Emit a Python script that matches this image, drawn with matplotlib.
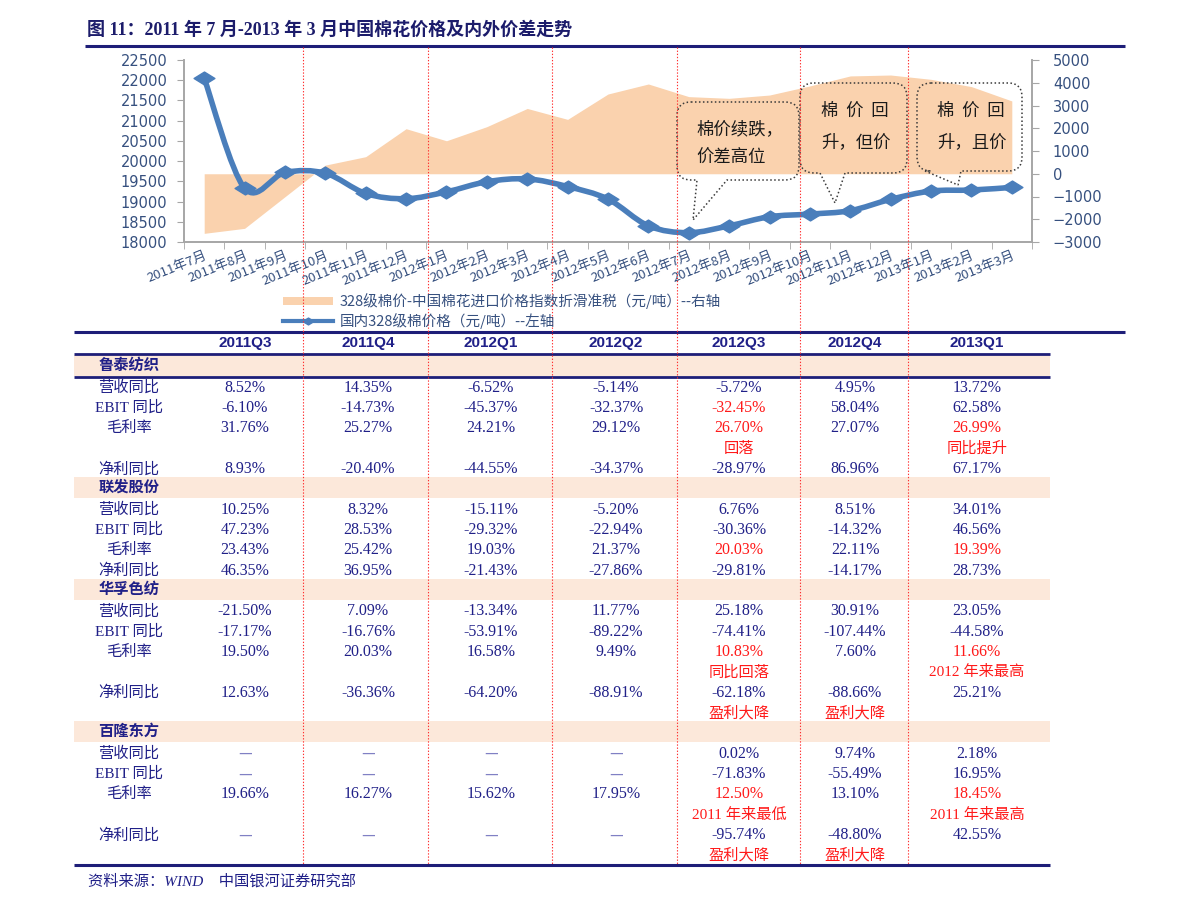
import numpy as np
import matplotlib.pyplot as plt
from matplotlib.path import Path
from matplotlib.patches import PathPatch, Rectangle
from matplotlib.lines import Line2D

plt.rcParams['font.family'] = ['Liberation Sans', 'Noto Sans CJK SC', 'DejaVu Sans']

# ---- chart data ----
months = ['2011年7月', '2011年8月', '2011年9月', '2011年10月', '2011年11月', '2011年12月',
          '2012年1月', '2012年2月', '2012年3月', '2012年4月', '2012年5月', '2012年6月',
          '2012年7月', '2012年8月', '2012年9月', '2012年10月', '2012年11月', '2012年12月',
          '2013年1月', '2013年2月', '2013年3月']
domestic_price = [22050, 19330, 19720, 19700, 19200, 19070, 19240, 19490, 19560, 19370, 19060,
                  18400, 18230, 18400, 18625, 18690, 18775, 19055, 19260, 19285, 19350]
price_gap = [-2620, -2400, -1010, 380, 750, 1980, 1450, 2070, 2870, 2390, 3505,
             3945, 3390, 3315, 3460, 3860, 4300, 4340, 4150, 3830, 3200]
legend_gap = '328级棉价-中国棉花进口价格指数折滑准税（元/吨）--右轴'
legend_dom = '国内328级棉价格（元/吨）--左轴'
title = '图 11：2011 年 7 月-2013 年 3 月中国棉花价格及内外价差走势'

# ---- table data ----
quarters = ['2011Q3', '2011Q4', '2012Q1', '2012Q2', '2012Q3', '2012Q4', '2013Q1']
companies = ['鲁泰纺织', '联发股份', '华孚色纺', '百隆东方']
metrics = ['营收同比', 'EBIT 同比', '毛利率', '净利同比']
lutai = [[8.52, 14.35, -6.52, -5.14, -5.72, 4.95, 13.72],
         [-6.10, -14.73, -45.37, -32.37, -32.45, 58.04, 62.58],
         [31.76, 25.27, 24.21, 29.12, 26.70, 27.07, 26.99],
         [8.93, -20.40, -44.55, -34.37, -28.97, 86.96, 67.17]]
lianfa = [[10.25, 8.32, -15.11, -5.20, 6.76, 8.51, 34.01],
          [47.23, 28.53, -29.32, -22.94, -30.36, -14.32, 46.56],
          [23.43, 25.42, 19.03, 21.37, 20.03, 22.11, 19.39],
          [46.35, 36.95, -21.43, -27.86, -29.81, -14.17, 28.73]]
huafu = [[-21.50, 7.09, -13.34, 11.77, 25.18, 30.91, 23.05],
         [-17.17, -16.76, -53.91, -89.22, -74.41, -107.44, -44.58],
         [19.50, 20.03, 16.58, 9.49, 10.83, 7.60, 11.66],
         [12.63, -36.36, -64.20, -88.91, -62.18, -88.66, 25.21]]
bailong = [[None, None, None, None, 0.02, 9.74, 2.18],
           [None, None, None, None, -71.83, -55.49, 16.95],
           [19.66, 16.27, 15.62, 17.95, 12.50, 13.10, 18.45],
           [None, None, None, None, -95.74, -48.80, 42.55]]
table_values = [lutai, lianfa, huafu, bailong]
red_cells = {(0, 1): [4], (0, 2): [4, 6], (1, 2): [4, 6], (2, 2): [4, 6], (3, 2): [4, 6]}
notes = {(0, 2): {4: '回落', 6: '同比提升'},
         (2, 2): {4: '同比回落', 6: '2012 年来最高'},
         (2, 3): {4: '盈利大降', 5: '盈利大降'},
         (3, 2): {4: '2011 年来最低', 6: '2011 年来最高'},
         (3, 3): {4: '盈利大降', 5: '盈利大降'}}
source = '资料来源：WIND    中国银河证券研究部'

blue = '#4A7EBB'
peach = '#FAD2AE'
navy = '#202088'
axis_txt = '#36507F'
red = '#FF1A1A'

fig = plt.figure(figsize=(11.91, 9.09), dpi=100)
W, H = 1191, 909


def smooth_path(xs, ys):
    xs = np.asarray(xs, float)
    ys = np.asarray(ys, float)
    n = len(xs)
    verts = [(xs[0], ys[0])]
    codes = [Path.MOVETO]
    for i in range(n - 1):
        p0 = np.array([xs[max(i - 1, 0)], ys[max(i - 1, 0)]])
        p1 = np.array([xs[i], ys[i]])
        p2 = np.array([xs[i + 1], ys[i + 1]])
        p3 = np.array([xs[min(i + 2, n - 1)], ys[min(i + 2, n - 1)]])
        c1 = p1 + (p2 - p0) / 6
        c2 = p2 - (p3 - p1) / 6
        verts += [tuple(c1), tuple(c2), tuple(p2)]
        codes += [Path.CURVE4] * 3
    return Path(verts, codes)


# ---- chart ----
ax = fig.add_axes([184 / W, 1 - 242 / H, (1032 - 184) / W, (242 - 60) / H])
ax2 = ax.twinx()
x = np.arange(len(months))

ax2.fill_between(x, price_gap, 0, color=peach, lw=0)
ax2.set_ylim(-3000, 5000)
ax2.set_yticks(np.arange(-3000, 5001, 1000))

ax.set_zorder(ax2.get_zorder() + 1)
ax.patch.set_visible(False)
ax.add_patch(PathPatch(smooth_path(x, domestic_price), fill=False, ec=blue, lw=4,
                       capstyle='round', joinstyle='round'))
diamond = Path([(-1, 0), (0, 0.62), (1, 0), (0, -0.62), (-1, 0)],
               [Path.MOVETO, Path.LINETO, Path.LINETO, Path.LINETO, Path.CLOSEPOLY])
ax.plot(x, domestic_price, ls='none', marker=diamond, ms=15, color=blue)
ax.set_ylim(18000, 22500)
ax.set_yticks(np.arange(18000, 22501, 500))
ax.set_xlim(-0.5, len(months) - 0.5)
ax.set_xticks(x)
ax.set_xticklabels(months, rotation=22, ha='right', rotation_mode='anchor',
                   fontsize=9.5, color=axis_txt, family=['Noto Sans CJK SC', 'DejaVu Sans'])
ax.set_xticks(np.arange(-0.5, len(months)), minor=True)
ax.tick_params(axis='x', which='major', length=0, pad=5)
ax.tick_params(axis='x', which='minor', length=5, color='#A6A6A6')
ax.tick_params(axis='y', length=5, color='#A6A6A6', labelcolor=axis_txt, labelsize=10.5, pad=7)
ax2.tick_params(axis='y', length=5, color='#A6A6A6', labelcolor=axis_txt, labelsize=10.5, pad=10)
for a in (ax, ax2):
    a.spines['top'].set_visible(False)
    for s in ('left', 'right', 'bottom'):
        a.spines[s].set_color('#A6A6A6')
        a.spines[s].set_linewidth(1.2)
for lab in ax.get_yticklabels() + ax2.get_yticklabels():
    lab.set_family('DejaVu Sans')

# ---- overlay in pixel coordinates ----
ov = fig.add_axes([0, 0, 1, 1])
ov.set_xlim(0, W)
ov.set_ylim(H, 0)
ov.axis('off')
ov.set_zorder(ax.get_zorder() + 5)

cjk = ['Liberation Serif', 'Noto Sans CJK SC']
ov.text(87, 30, title, fontsize=13, weight='bold', color='#1C1C6B', family=cjk,
        ha='left', va='center')
ov.plot([85, 1125], [45.5, 45.5], color='#1E1E78', lw=2.2, solid_capstyle='butt')


def bubble(x0, y0, x1, y1, ta, tb, tip, r=14):
    v = [(x0 + r, y0), (x1 - r, y0), (x1, y0), (x1, y0 + r), (x1, y1 - r), (x1, y1),
         (x1 - r, y1), (tb, y1), tip, (ta, y1), (x0 + r, y1), (x0, y1), (x0, y1 - r),
         (x0, y0 + r), (x0, y0), (x0 + r, y0), (x0 + r, y0)]
    c = [Path.MOVETO, Path.LINETO, Path.CURVE3, Path.CURVE3, Path.LINETO, Path.CURVE3,
         Path.CURVE3, Path.LINETO, Path.LINETO, Path.LINETO, Path.LINETO, Path.CURVE3,
         Path.CURVE3, Path.LINETO, Path.CURVE3, Path.CURVE3, Path.CLOSEPOLY]
    ov.add_patch(PathPatch(Path(v, c), fill=False, ec='#3A3A3A', lw=1.1,
                           ls=(0, (1, 1.6))))


bubble(677, 102, 799, 180, 697, 727, (693, 220))
bubble(800, 83, 907, 173, 820, 845, (835, 203))
bubble(917, 83, 1022, 171, 925, 961, (958, 185))
bfont = dict(fontsize=12.5, color='#1A1A1A', family=['Noto Sans CJK SC'], ha='left', va='center')
ov.text(696, 129, '棉价续跌，', **bfont)
ov.text(696, 158, '价差高位', **bfont)
ov.text(821, 111, '棉  价  回', **bfont)
ov.text(821, 142, '升，但价', **bfont)
ov.text(937, 111, '棉  价  回', **bfont)
ov.text(937, 142, '升，且价', **bfont)

# legend
ov.add_patch(Rectangle((283, 297), 50, 8, color=peach, lw=0))
ov.text(340, 301, legend_gap, fontsize=10.5, color=axis_txt,
        family=['Noto Sans CJK SC'], ha='left', va='center')
ov.add_line(Line2D([283, 333], [321, 321], color=blue, lw=3))
ov.plot([308], [321], ls='none', marker=diamond, ms=8, color=blue)
ov.text(340, 321, legend_dom, fontsize=10.5, color=axis_txt,
        family=['Noto Sans CJK SC'], ha='left', va='center')

# ---- table ----
col_x = [245, 368, 491, 616, 739, 855, 977]
label_x = 129
ov.plot([74, 1125], [331.5, 331.5], color='#1E1E78', lw=2.2, solid_capstyle='butt')
for cx, q in zip(col_x, quarters):
    ov.text(cx, 343, q, ha='center', va='center', fontsize=11, weight='bold',
            color=navy, family='Liberation Sans')

pitch = 20.33
row = 0
y_first = 387.7


def row_y(r):
    return y_first + (r - 1) * pitch


for ci, comp in enumerate(companies):
    yc = row_y(row) - 1.5
    ov.add_patch(Rectangle((74, yc - 10.5), 976, 21, color='#FCE8DA', lw=0, zorder=0))
    ov.text(label_x, yc, comp, ha='center', va='center', fontsize=11, weight='bold',
            color=navy, family=cjk)
    row += 1
    for mi, met in enumerate(metrics):
        yc = row_y(row)
        ov.text(label_x, yc, met, ha='center', va='center', fontsize=11, color=navy, family=cjk)
        reds = red_cells.get((ci, mi), [])
        for qi, v in enumerate(table_values[ci][mi]):
            if v is None:
                ov.text(col_x[qi], yc, '—', ha='center', va='center', fontsize=11,
                        color='#8080C4', family=['Noto Sans CJK SC'])
            else:
                ov.text(col_x[qi], yc, f'{v:.2f}%', ha='center', va='center', fontsize=11.5,
                        color=red if qi in reds else navy, family='Liberation Serif')
        row += 1
        note = notes.get((ci, mi))
        if note:
            yc = row_y(row)
            for qi, txt in note.items():
                ov.text(col_x[qi], yc, txt, ha='center', va='center', fontsize=11,
                        color=red, family=cjk)
            row += 1

ov.plot([74, 1050], [353.5, 353.5], color='#1E1E78', lw=2, solid_capstyle='butt')
ov.plot([74, 1050], [376.5, 376.5], color='#1E1E78', lw=2, solid_capstyle='butt')
ov.plot([74, 1050], [864.5, 864.5], color='#1E1E78', lw=2.2, solid_capstyle='butt')

ov.text(88, 881, source, fontsize=11, style='italic', color=navy, family=cjk,
        ha='left', va='center')

# red dotted guides
for gx in [303, 428, 552, 677, 800, 908]:
    ov.plot([gx, gx], [47, 864], color='#FF3030', lw=0.8, ls=(0, (1.2, 1.6)))

fig.savefig('out.png', dpi=100)
